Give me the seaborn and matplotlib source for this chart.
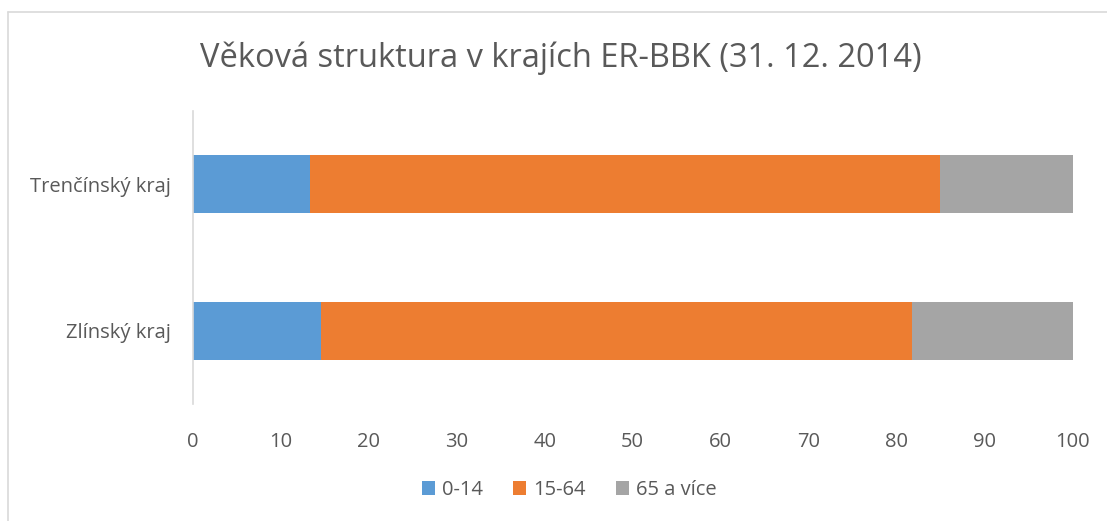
import matplotlib.pyplot as plt
import seaborn as sns
import pandas as pd
import numpy as np

# data (percent of population)
kraje = ['Trenčínský kraj', 'Zlínský kraj']
skupiny = ['0-14', '15-64', '65 a více']
deti = [13.3, 14.6]
produktivni = [71.6, 67.1]
seniori = [15.1, 18.3]
barvy = ['#5B9BD5', '#ED7D31', '#A5A5A5']

sns.set_theme(style='white')
plt.rcParams['font.family'] = ['Open Sans', 'DejaVu Sans']

df = pd.DataFrame({'kraj': kraje, '0-14': deti, '15-64': produktivni, '65 a více': seniori})
cum = df[skupiny].cumsum(axis=1)  # stacked ends

fig = plt.figure(figsize=(11.07, 5.21), dpi=100)
ax = fig.add_axes([0.1741, 1 - 404 / 521, 0.9690 - 0.1741, 293 / 521])

# draw from the longest stack down so the shorter ones sit on top
for s, c in zip(reversed(skupiny), reversed(barvy)):
    sns.barplot(x=cum[s], y=df['kraj'], orient='h', color=c, width=0.394,
                saturation=1, label=s, ax=ax, linewidth=0)

ax.set_xlim(0, 100)
ax.set_ylim(1.5, -0.5)
ax.set_xticks(np.arange(0, 101, 10))
ax.set_xlabel('')
ax.set_ylabel('')
for sp in ['top', 'right', 'bottom']:
    ax.spines[sp].set_visible(False)
ax.spines['left'].set_color('#D9D9D9')
ax.spines['left'].set_linewidth(1.2)
ax.tick_params(axis='both', length=0, labelsize=14.5, labelcolor='#595959')
ax.tick_params(axis='x', pad=20)
ax.tick_params(axis='y', pad=16)

h, l = ax.get_legend_handles_labels()
ax.legend(h[::-1], l[::-1], loc='center', bbox_to_anchor=(569 / 1107, 1 - 490 / 521),
          bbox_transform=fig.transFigure, ncol=3, frameon=False, fontsize=14.5,
          labelcolor='#595959', handlelength=0.65, handleheight=0.65,
          handletextpad=0.35, columnspacing=1.5)

fig.text(561 / 1107, 1 - 58 / 521, 'Věková struktura v krajích ER-BBK (31. 12. 2014)',
         ha='center', va='center', fontsize=23.5, color='#595959')

# outer frame of the chart area
fig.add_artist(plt.Line2D([8 / 1107, 1], [1 - 12 / 521] * 2, color='#D9D9D9', lw=1.2))
fig.add_artist(plt.Line2D([8 / 1107] * 2, [0, 1 - 12 / 521], color='#D9D9D9', lw=1.2))

fig.savefig('out.png', dpi=100, facecolor='white')
